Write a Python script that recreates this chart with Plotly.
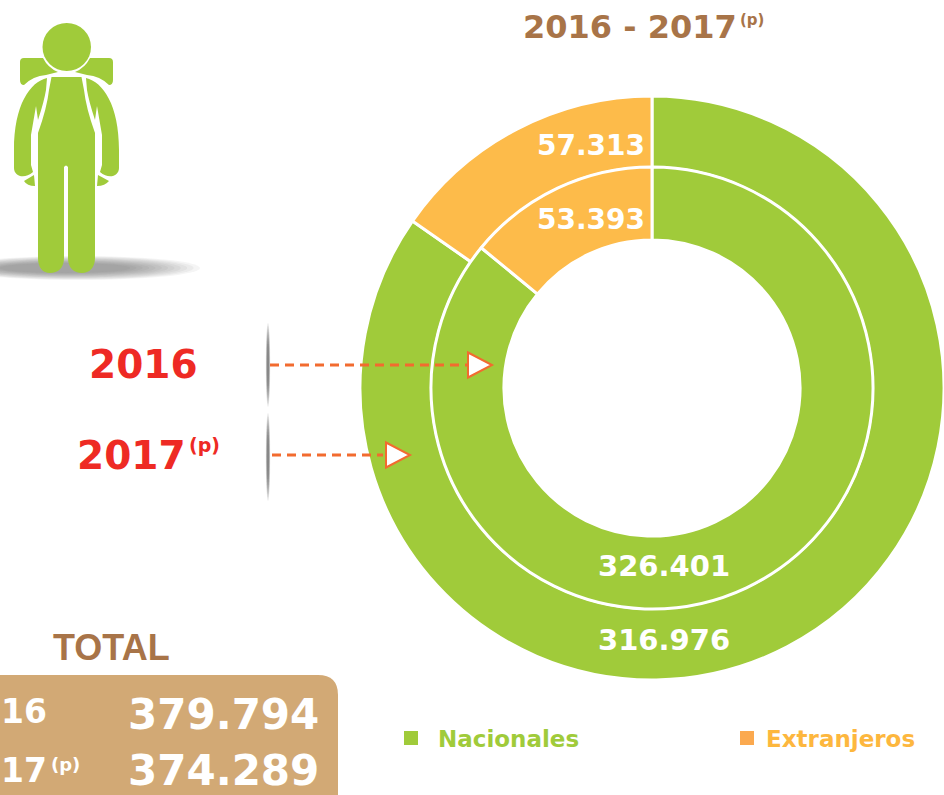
import plotly.graph_objects as go

W, H = 944, 795

categories = ["Nacionales", "Extranjeros"]
values_2016 = [326401, 53393]
values_2017 = [316976, 57313]
totals = {"2016": 379794, "2017": 374289}

GREEN = "#A0CB3A"
ORANGE = "#FDBB4A"
BROWN = "#A87448"
BOX = "#D2A975"
RED = "#EE2A24"
DASH = "#F26B2F"
FONT = "DejaVu Sans"


def fx(x):
    return x / W


def fy(y):
    return 1 - y / H


def fmt(v):
    return f"{v:,}".replace(",", ".")


def pie_domain(cx, cy, r):
    return dict(x=[fx(cx - r), min(1, fx(cx + r))], y=[fy(cy + r), fy(cy - r)])


CX, CY = 652, 388
fig = go.Figure()
fig.add_trace(go.Pie(labels=categories, values=values_2017, sort=False, direction="clockwise",
                     rotation=0, hole=0.755, textinfo="none", showlegend=False,
                     marker=dict(colors=[GREEN, ORANGE], line=dict(color="white", width=3)),
                     domain=pie_domain(CX, CY, 292)))
fig.add_trace(go.Pie(labels=categories, values=values_2016, sort=False, direction="clockwise",
                     rotation=0, hole=0.67, textinfo="none", showlegend=False,
                     marker=dict(colors=[GREEN, ORANGE], line=dict(color="white", width=3)),
                     domain=pie_domain(CX, CY, 221)))

shapes = []


def path(cmds, fill=GREEN, line=None, width=0):
    out = []
    for c in cmds:
        if isinstance(c, str):
            out.append(c)
        else:
            out.append(f"{fx(c[0]):.5f},{fy(c[1]):.5f}")
    d = dict(type="path", xref="paper", yref="paper", path=" ".join(out), fillcolor=fill,
             line=dict(width=width, color=line or fill))
    shapes.append(d)


def ellipse(x0, y0, x1, y1, fill, opacity=1.0, layer="above", lw=0, lc=None):
    shapes.append(dict(type="circle", xref="paper", yref="paper", x0=fx(x0), x1=fx(x1),
                       y0=fy(y1), y1=fy(y0), fillcolor=fill, opacity=opacity, layer=layer,
                       line=dict(width=lw, color=lc or fill)))


# soft ground shadow of the figure
for i in range(12):
    t = i / 11
    ellipse(-45 + 45 * t, 256 + 7 * t, 200 - 70 * t, 280 - 7 * t, "#555555", 0.06)
# soft lens marks next to the labels
for (yc, hh) in [(365, 42), (457, 44)]:
    for i in range(8):
        t = i / 7
        ellipse(268 - 2.2 * (1 - t * 0.7), yc - hh * (1 - 0.5 * t), 268 + 2.2 * (1 - t * 0.7),
                yc + hh * (1 - 0.5 * t), "#444444", 0.12)

# figure with backpack
ellipse(42.5, 23, 91, 71, GREEN)
path(["M", (24, 58), "L", (43, 58), "Q", (48, 68), (58, 72), "L", (46, 75), "Q", (33, 76), (24, 85),
      "Q", (20, 85), (20, 80), "L", (20, 62), "Q", (20, 58), (24, 58), "Z"])
path(["M", (109, 58), "L", (90, 58), "Q", (85, 68), (75, 72), "L", (87, 75), "Q", (100, 76), (109, 85),
      "Q", (113, 85), (113, 80), "L", (113, 62), "Q", (113, 58), (109, 58), "Z"])
# torso and legs
path(["M", (51.5, 77), "L", (81.5, 77), "L", (84, 90), "Q", (86, 108), (95, 133), "L", (95, 258),
      "C", (95, 268), (89, 273), (82, 273), "C", (74, 273), (68, 268), (68, 258), "L", (68, 167),
      "Q", (66, 164), (64, 167), "L", (64, 258), "C", (64, 268), (58, 273), (50, 273),
      "C", (43, 273), (38, 268), (38, 258), "L", (38, 133), "Q", (47, 108), (49, 90), "Z"])
# arms
path(["M", (47, 78), "C", (30, 82), (14, 105), (14, 150), "L", (14, 168), "C", (14, 176), (24, 180), (33, 172),
      "L", (31, 165), "L", (31, 135), "L", (36, 106), "L", (38, 120), "Q", (44, 102), (46, 90), "Z"])
path(["M", (86, 78), "C", (103, 82), (119, 105), (119, 150), "L", (119, 168), "C", (119, 176), (109, 180), (100, 172),
      "L", (102, 165), "L", (102, 135), "L", (97, 106), "L", (95, 120), "Q", (89, 102), (87, 90), "Z"])
# hands
path(["M", (24, 181), "L", (34, 175), "L", (35, 186), "Q", (27, 186), (24, 181), "Z"])
path(["M", (109, 181), "L", (98, 175), "L", (97, 186), "Q", (105, 186), (109, 181), "Z"])

# total box
r = 20
path(["M", (-20, 675), "L", (338 - r, 675), "Q", (338, 675), (338, 675 + r), "L", (338, 800), "L", (-20, 800), "Z"],
     fill=BOX)

# dashed pointers with triangular heads
for (x0, x1, y) in [(270, 467, 365), (272, 383, 455)]:
    shapes.append(dict(type="line", xref="paper", yref="paper", x0=fx(x0), x1=fx(x1), y0=fy(y), y1=fy(y),
                       line=dict(color=DASH, width=3, dash="9px,6px")))
for (x, y) in [(468, 365), (386, 455)]:
    path(["M", (x, y - 12.5), "L", (x + 24, y), "L", (x, y + 12.5), "Z"], fill="white", line=DASH, width=2)

# legend swatches
for (x, c) in [(404, GREEN), (740, "#FBA94F")]:
    shapes.append(dict(type="rect", xref="paper", yref="paper", x0=fx(x), x1=fx(x + 14), y0=fy(745), y1=fy(731),
                       fillcolor=c, line=dict(width=0)))

ann = []


def text(s, x, y, size, color, anchor="center", family=FONT):
    ann.append(dict(text=s, xref="paper", yref="paper", x=fx(x), y=fy(y), xanchor=anchor, yanchor="middle",
                    showarrow=False, borderpad=0, font=dict(family=family, size=size, color=color, weight=700)))


text("2016 - 2017", 630, 27, 32, BROWN)
text("(p)", 752, 20, 15, BROWN)
text(fmt(values_2017[1]), 646, 146, 28, "white", "right")
text(fmt(values_2016[1]), 646, 220, 28, "white", "right")
text(fmt(values_2016[0]), 664, 566, 29, "white")
text(fmt(values_2017[0]), 664, 640, 29, "white")
text("2016", 143, 364, 39, RED)
text("2017", 131, 455, 39, RED)
text("(p)", 204, 445, 19, RED)
text("TOTAL", 111, 647, 36, BROWN, family="Liberation Sans")
text("16", 0, 711, 33, "white", "left")
text("17", 0, 770, 33, "white", "left")
text("(p)", 50, 764, 18, "white", "left")
text(fmt(totals["2016"]), 320, 714, 42, "white", "right")
text(fmt(totals["2017"]), 320, 770, 42, "white", "right")
text(categories[0], 437, 739, 23, GREEN, "left")
text(categories[1], 765, 739, 23, "#FDB73E", "left")

fig.update_layout(width=W, height=H, margin=dict(l=0, r=0, t=0, b=0), paper_bgcolor="white",
                  plot_bgcolor="white", shapes=shapes, annotations=ann, showlegend=False)
fig.write_html("out.html", config=dict(displayModeBar=False),
               post_script="document.body.style.margin='0';document.body.style.overflow='hidden';")
